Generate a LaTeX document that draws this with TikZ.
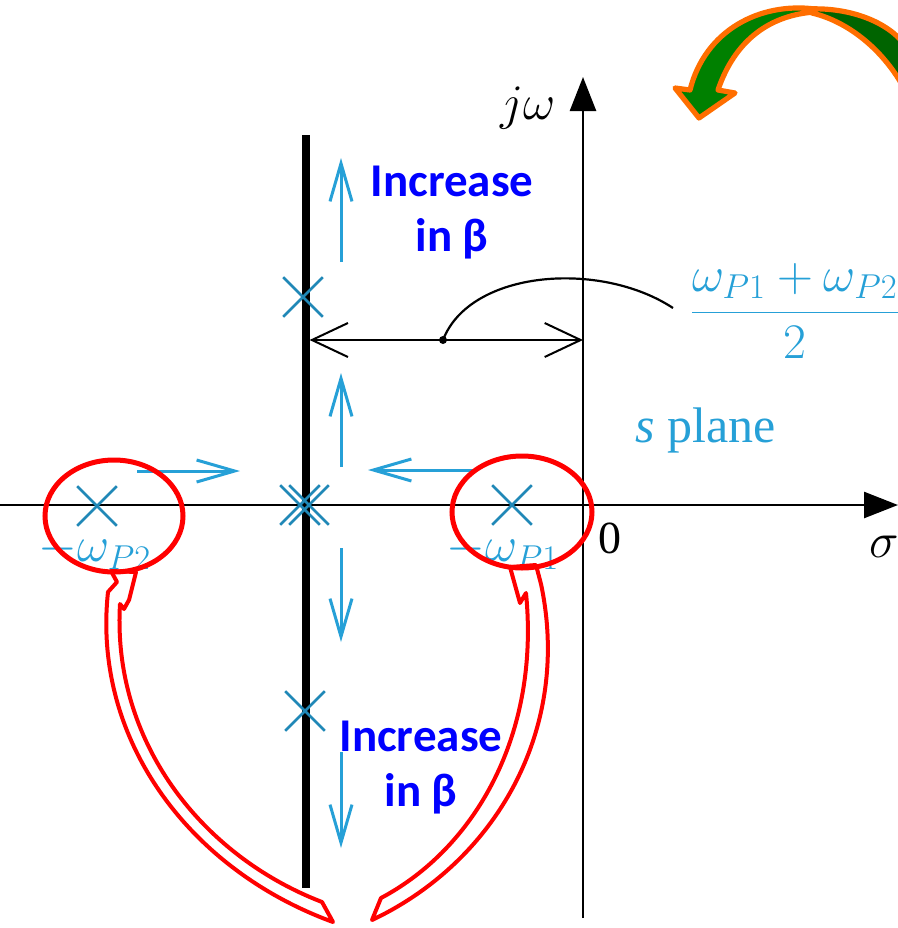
\documentclass[tikz,border=0pt]{standalone}
\usepackage{fontspec}
\setmainfont{Liberation Serif}
\newfontfamily\calibri{Carlito}
\usetikzlibrary{arrows.meta,shapes.misc}
\definecolor{bookcyan}{RGB}{38,160,215}
\definecolor{markred}{RGB}{255,0,0}
\definecolor{turnorange}{RGB}{255,110,0}
\definecolor{turngreen}{RGB}{0,128,0}
\definecolor{turndark}{RGB}{0,100,0}
\tikzset{
  axisarrow/.style={line width=1.3pt,-{Triangle[length=17pt,width=13pt]}},
  locusline/.style={line width=3.6pt},
  polemark/.style={cross out,draw=bookcyan!85!black,line width=1.3pt,minimum size=18.5pt,inner sep=0pt},
  movearrow/.style={draw=bookcyan,line width=1.5pt,-{Straight Barb[length=19pt,width=11pt]}},
  spanarrow/.style={line width=1pt,{Straight Barb[length=18pt,width=17pt]}-{Straight Barb[length=18pt,width=17pt]}},
  booktext/.style={text=bookcyan,inner sep=0pt,font=\fontsize{23}{27}\selectfont},
  blacktext/.style={inner sep=0pt,font=\fontsize{23}{27}\selectfont},
  betanote/.style={text=blue,align=center,inner sep=0pt,anchor=north,font=\calibri\bfseries\fontsize{23.5}{27.5}\selectfont},
  redring/.style={draw=markred,line width=2.5pt},
  redpointer/.style={draw=markred,fill=white,line width=2pt,line join=round},
  twistarrow/.style={draw=turnorange,line width=2.6pt,line join=round}
}

\begin{document}
\begin{tikzpicture}[x=0.5pt,y=-0.5pt]
  \useasboundingbox (0,0) rectangle (898,928);
  \clip (0,0) rectangle (898,928);
  % s plane axes and root locus
  \coordinate (O) at (583,505); \coordinate (Xl) at (0,505); \coordinate (Xr) at (898,505);
  \coordinate (Yb) at (583,918); \coordinate (Yt) at (583,77);
  \coordinate (Lt) at (306,135); \coordinate (Lb) at (306,888); \coordinate (M) at (443,340);
  \draw[axisarrow] (Xl)--(Xr);
  \draw[axisarrow] (Yb)--(Yt);
  \draw[locusline] (Lt)--(Lb);
  \draw[spanarrow] ([xshift=1.8pt]Lt |- M)--(O |- M);
  \draw[line width=1.1pt] (M) .. controls (470,270) and (600,260) .. (673,308);
  \fill (M) circle (4);
  \node[polemark] (pu) at (303,297) {}; \node[polemark] (pca) at (300,505) {}; \node[polemark] (pcb) at (309,505) {};
  \node[polemark] (pd) at (305,711) {}; \node[polemark] (p1) at (512,505) {}; \node[polemark] (p2) at (97,506) {};
  \draw[movearrow] (341,262)--(341,158);
  \draw[movearrow] (341,467)--(341,373);
  \draw[movearrow] (477,470)--(368,470);
  \draw[movearrow] (137,471)--(240,471);
  \draw[movearrow] (341,548)--(341,642);
  \draw[movearrow] (341,752)--(341,848);
  \node[blacktext,font=\fontsize{24}{28}\selectfont] (jw) at (528,108) {$j\omega$};
  \node[blacktext] (zero) at (610,538) {0};
  \node[blacktext,font=\fontsize{24}{28}\selectfont] (sig) at (884,547) {$\sigma$};
  \node[booktext] (half) at (795,311) {$\displaystyle\frac{\omega_{P1}+\omega_{P2}}{2}$};
  \node[booktext,font=\fontsize{25}{29}\selectfont] (splane) at (706,430) {\textit{s} plane};
  \node[booktext] (lp1) at (503,551) {$-\omega_{P1}$};
  \node[booktext] (lp2) at (95,551) {$-\omega_{P2}$};
  \node[betanote] (incu) at (452,166) {Increase\\in β};
  \node[betanote] (incd) at (421,721) {Increase\\in β};
  % red marks
  \draw[redpointer] (111,571)--(136,572)--(129,600)--(124,609)--(120,604)
    .. controls (112,740) and (200,855) .. (322,902)--(333,922)
    .. controls (190,870) and (92,740) .. (108,592)--(117,582)--cycle;
  \draw[redpointer] (536,565)--(541,584) .. controls (572,730) and (495,862) .. (372,920)
    --(381,898) .. controls (475,848) and (540,735) .. (526,593)--(520,603)--(510,567)--cycle;
  \draw[redring] (114,516) ellipse (69 and 56);
  \draw[redring] (522,512) ellipse (70 and 56);
  % turn arrow
  \filldraw[twistarrow,fill=turndark] (808,9) .. controls (850,7) and (888,22) .. (905,45)
    --(905,90) .. controls (885,52) and (850,22) .. (812,13)--cycle;
  \filldraw[twistarrow,fill=turngreen] (815,9) .. controls (760,2) and (705,30) .. (690,90)
    --(675,88)--(699,118)--(735,93)--(718,90) .. controls (735,40) and (770,15) .. (815,12)--cycle;
\end{tikzpicture}
\end{document}
